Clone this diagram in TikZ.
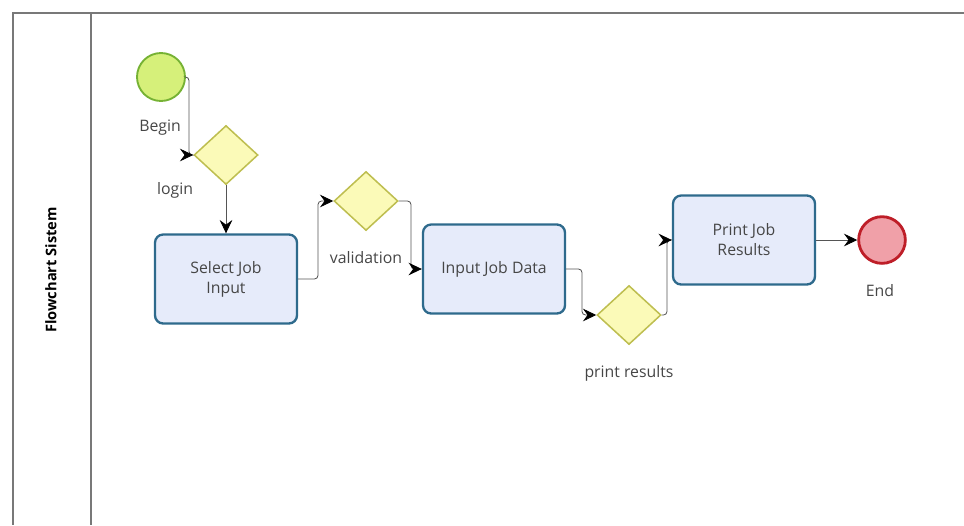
\documentclass[tikz,border=0pt]{standalone}
\usepackage{fontspec}
\setmainfont{Open Sans}
\usepackage{tikz}
\usetikzlibrary{shapes.geometric, arrows.meta, positioning}
\definecolor{lanegray}{RGB}{120, 120, 120}
\definecolor{linegray}{RGB}{85, 85, 85}
\definecolor{startgreen}{RGB}{214, 240, 122}
\definecolor{startedge}{RGB}{118, 178, 52}
\definecolor{gatefill}{RGB}{251, 250, 184}
\definecolor{gateedge}{RGB}{190, 190, 80}
\definecolor{taskfill}{RGB}{230, 235, 250}
\definecolor{taskedge}{RGB}{46, 106, 140}
\definecolor{endfill}{RGB}{240, 160, 168}
\definecolor{endedge}{RGB}{190, 30, 40}
\definecolor{labelgray}{RGB}{70, 70, 70}
\tikzset{
  >=Stealth,
  seqarrow/.style={-{Stealth[length=4mm, width=3.8mm, inset=1.4mm, black]}, linegray, line width=0.7pt, rounded corners=3pt},
  taskbox/.style={draw=taskedge, fill=taskfill, line width=2pt, rounded corners=7pt, align=center, minimum width=4.26cm, minimum height=2.67cm, text=labelgray},
  gateway/.style={diamond, draw=gateedge, fill=gatefill, line width=1.3pt, minimum width=1.92cm, minimum height=1.77cm, inner sep=0pt},
  startevent/.style={circle, draw=startedge, fill=startgreen, line width=1.6pt, minimum size=1.44cm, inner sep=0pt},
  endevent/.style={circle, draw=endedge, fill=endfill, line width=2.4pt, minimum size=1.4cm, inner sep=0pt},
  evlabel/.style={text=labelgray, inner sep=1pt}
}

\begin{document}
\begin{tikzpicture}[x=0.03cm, y=-0.03cm, font=\fontsize{13.5}{17}\selectfont]
    \useasboundingbox (0,0) rectangle (964,525);
    % pool and lane
    \draw[lanegray, line width=1.2pt] (964,13) -- (13,13) -- (13,525);
    \draw[lanegray, line width=1.2pt] (91,13) -- (91,525);
    \node[rotate=90, font=\fontsize{12.5}{15}\selectfont\bfseries, text=black] (lane) at (51,270) {Flowchart Sistem};

    % events, gateways and tasks
    \node[startevent] (begin) at (161,77) {};
    \node[evlabel] (beginlbl) at (160,128) {Begin};
    \node[gateway] (login) at (226,155) {};
    \node[evlabel] (loginlbl) at (175,190) {login};
    \node[taskbox] (select) at (226,279) {Select Job\\Input};
    \node[gateway] (valid) at (366,201) {};
    \node[evlabel] (validlbl) at (366,258) {validation};
    \node[taskbox] (inputdata) at (494,269) {Input Job Data};
    \node[gateway] (printres) at (629,315) {};
    \node[evlabel] (printlbl) at (629,373) {print results};
    \node[taskbox] (printjob) at (744,240) {Print Job\\Results};
    \node[endevent] (finish) at (882,240) {};
    \node[evlabel] (endlbl) at (880,291) {End};

    % sequence flows
    \coordinate (b1) at (189,77);
    \draw[seqarrow] (begin.east) -- (b1) |- (login.west);
    \draw[seqarrow] (login.south) -- (select.north);
    \coordinate (b2) at (318,279);
    \draw[seqarrow] (select.east) -- (b2) |- (valid.west);
    \coordinate (b3) at (411,201);
    \draw[seqarrow] (valid.east) -- (b3) |- (inputdata.west);
    \coordinate (b4) at (582,269);
    \draw[seqarrow] (inputdata.east) -- (b4) |- (printres.west);
    \coordinate (b5) at (667,315);
    \draw[seqarrow] (printres.east) -- (b5) |- (printjob.west);
    \draw[seqarrow] (printjob.east) -- (finish.west);
\end{tikzpicture}
\end{document}
